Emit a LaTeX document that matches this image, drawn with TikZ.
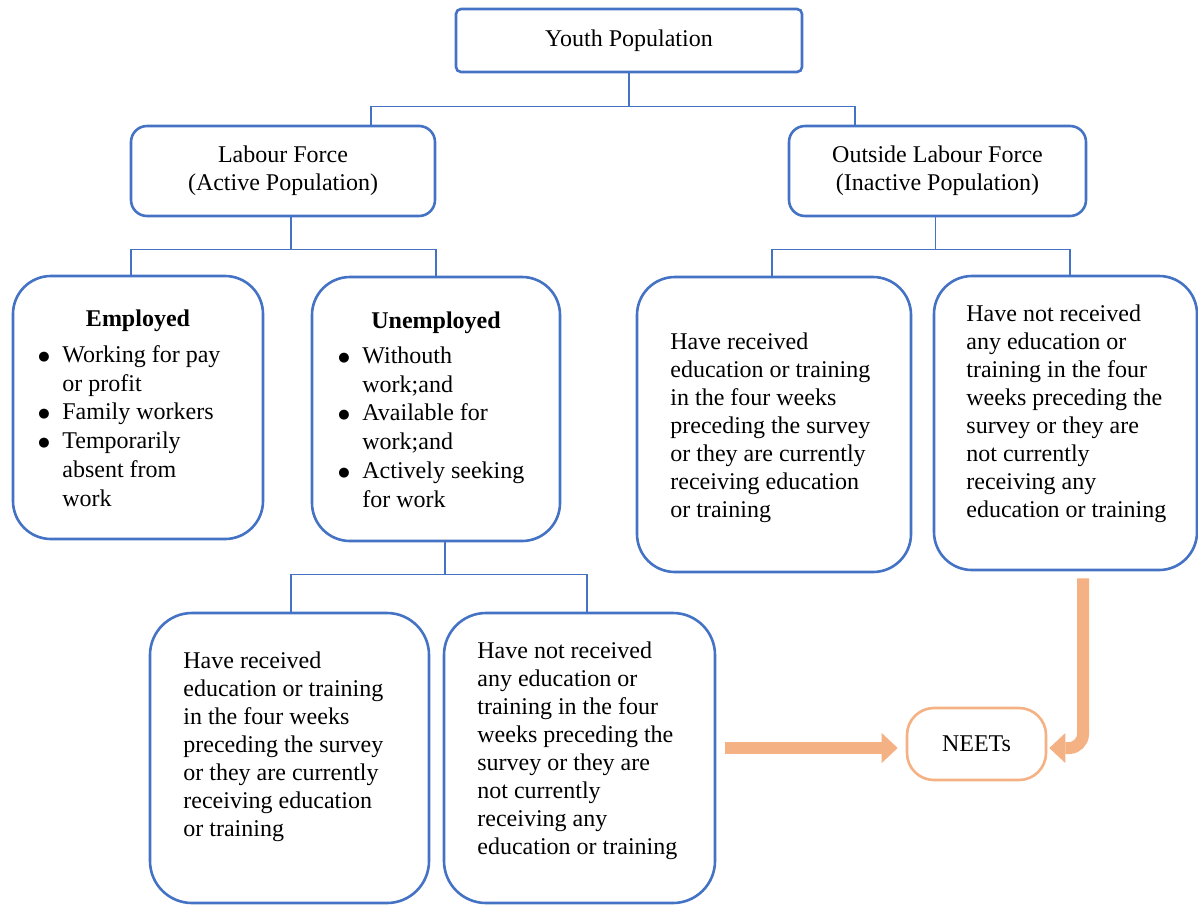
\documentclass[tikz,border=0pt]{standalone}
\usepackage{fontspec}
\setmainfont{Liberation Serif}
\newfontfamily\dotfont{DejaVu Sans}
\usetikzlibrary{arrows.meta, calc}
\definecolor{cblue}{HTML}{4472C4}
\definecolor{corange}{HTML}{F4B183}
\newcommand{\lbul}{\makebox[13pt][l]{\hspace{1pt}\raisebox{1pt}{\dotfont\fontsize{6.5}{8}\selectfont ●}}}
\newcommand{\lgap}{\makebox[13pt]{}}
\tikzset{
  every picture/.style={x=0.5pt, y=-0.5pt},
  every node/.style={font=\fontsize{12}{14}\selectfont},
  card/.style={draw=cblue, line width=1.3pt, rounded corners=#1, inner sep=0pt, align=center},
  card/.default=19pt,
  link/.style={draw=cblue, line width=0.8pt},
  flow/.style={draw=corange, line width=6pt, -{Triangle[length=8pt, width=15pt, line width=0pt]}},
  body/.style={align=left, inner sep=0pt, anchor=west},
  listing/.style={body, font=\fontsize{12}{14.4}\selectfont},
  head/.style={font=\fontsize{12}{14}\selectfont\bfseries, inner sep=0pt},
}

\begin{document}
\begin{tikzpicture}
  \useasboundingbox (0,0) rectangle (1198,906);
  % boxes of the tree
  \node[card=2.5pt, minimum width=173pt, minimum height=31.5pt] (youth) at (629,40.5) {Youth Population};
  \node[card=8pt, minimum width=152pt, minimum height=45pt] (lf) at (283,171) {Labour Force\\(Active Population)};
  \node[card=8pt, minimum width=148.5pt, minimum height=45pt] (ol) at (937.5,171) {Outside Labour Force\\(Inactive Population)};
  \node[card, minimum width=125pt, minimum height=131.5pt] (emp) at (138,407.5) {};
  \node[card, minimum width=124pt, minimum height=132pt] (unemp) at (436,409) {};
  \node[card, minimum width=137pt, minimum height=147.5pt] (inA) at (774,424.5) {};
  \node[card, minimum width=131.5pt, minimum height=147pt] (inB) at (1065.5,423) {};
  \node[card=21pt, minimum width=139.5pt, minimum height=145pt] (unA) at (289.5,758) {};
  \node[card=21pt, minimum width=135.5pt, minimum height=145pt] (unB) at (579.5,758) {};
  \node[card=13.5pt, draw=corange, minimum width=69.5pt, minimum height=36pt] (neets) at (976.5,744) {NEETs};
  % texts inside the boxes
  \node[head] (empT) at (138,321) {Employed};
  \node[listing] (empL) at (36,426) {\lbul Working for pay\\\lgap or profit\\\lbul Family workers\\\lbul Temporarily\\\lgap absent from\\\lgap work};
  \node[head] (unempT) at (436,323) {Unemployed};
  \node[listing] (unempL) at (336,427) {\lbul Withouth\\\lgap work;and\\\lbul Available for\\\lgap work;and\\\lbul Actively seeking\\\lgap for work};
  \node[body] (inAT) at (670,428) {Have received\\education or training\\in the four weeks\\preceding the survey\\or they are currently\\receiving education\\or training};
  \node[body] (inBT) at (966,413.5) {Have not received\\any education or\\training in the four\\weeks preceding the\\survey or they are\\not currently\\receiving any\\education or training};
  \node[body] (unAT) at (183,747) {Have received\\education or training\\in the four weeks\\preceding the survey\\or they are currently\\receiving education\\or training};
  \node[body] (unBT) at (477,751) {Have not received\\any education or\\training in the four\\weeks preceding the\\survey or they are\\not currently\\receiving any\\education or training};
  % tree connectors
  \draw[link] (youth.south) -- ++(0,33) coordinate (yj);
  \draw[link] ($(lf.north)+(88,0)$) |- (yj) -| ($(ol.north)+(-82.5,0)$);
  \draw[link] ($(lf.south)+(8,0)$) -- ++(0,32) coordinate (lj);
  \draw[link] ($(emp.north)+(-7,0)$) |- (lj) -| (unemp.north);
  \draw[link] ($(ol.south)+(-2,0)$) -- ++(0,32) coordinate (oj);
  \draw[link] ($(inA.north)+(-2,0)$) |- (oj) -| ($(inB.north)+(4.5,0)$);
  \draw[link] ($(unemp.south)+(9,0)$) -- ++(0,32) coordinate (uj);
  \draw[link] ($(unA.north)+(1.5,0)$) |- (uj) -| ($(unB.north)+(7.5,0)$);
  % arrows into NEETs
  \draw[flow, shorten >=4pt] ($(unB.east |- neets.west)+(9,4)$) -- ($(neets.west)+(0,4)$);
  \draw[flow, rounded corners=7pt, shorten >=1pt] ($(inB.south)+(17.5,7)$) |- ($(neets.east)+(0,4)$);
\end{tikzpicture}
\end{document}
